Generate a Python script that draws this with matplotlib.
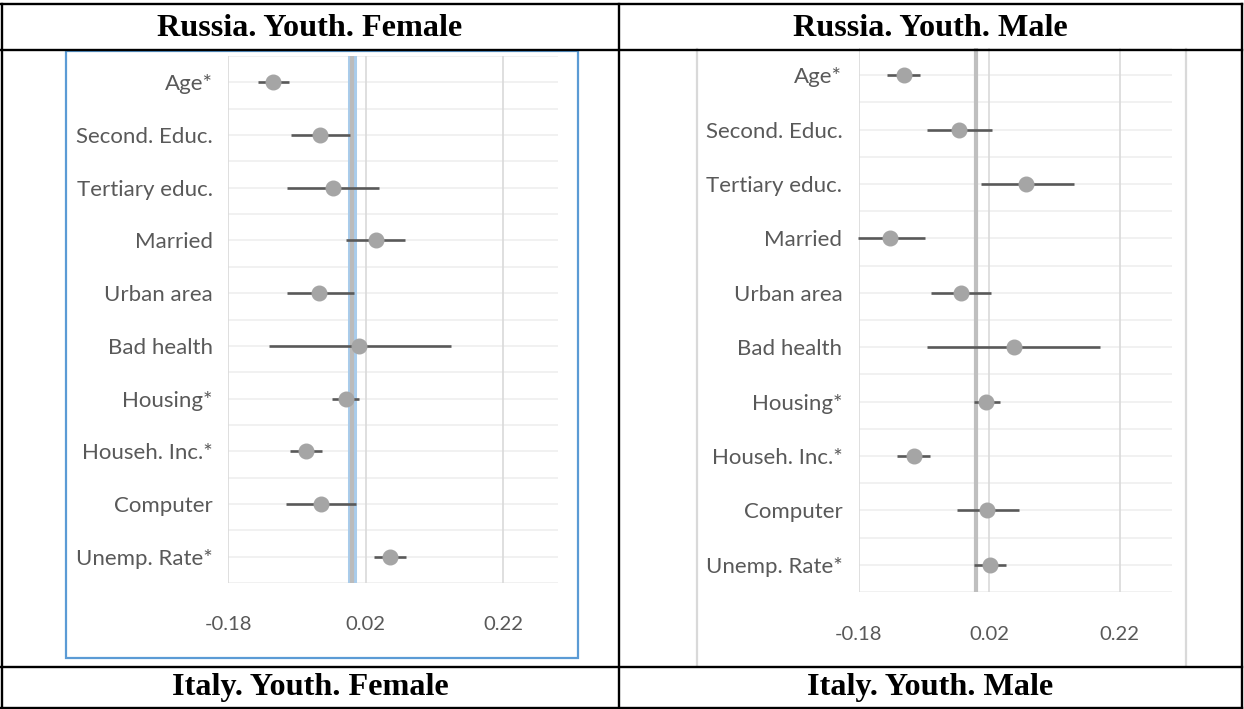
import matplotlib
matplotlib.use("Agg")
import matplotlib.pyplot as plt
import numpy as np
from matplotlib.lines import Line2D
from matplotlib.patches import Rectangle

W, H = 1244, 709
DPI = 100

categories = ["Age*", "Second. Educ.", "Tertiary educ.", "Married", "Urban area",
              "Bad health", "Housing*", "Househ. Inc.*", "Computer", "Unemp. Rate*"]
xticks = [-0.18, 0.02, 0.22]
xtick_labels = ["-0.18", "0.02", "0.22"]

fem_est = [-0.115, -0.046, -0.027, 0.035, -0.048, 0.011, -0.009, -0.067, -0.045, 0.055]
fem_lo = [-0.137, -0.089, -0.094, -0.008, -0.094, -0.120, -0.029, -0.090, -0.096, 0.032]
fem_hi = [-0.091, -0.003, 0.039, 0.078, 0.003, 0.145, 0.011, -0.043, 0.006, 0.079]

male_est = [-0.111, -0.026, 0.076, -0.132, -0.024, 0.057, 0.015, -0.096, 0.017, 0.021]
male_lo = [-0.137, -0.076, 0.007, -0.182, -0.070, -0.076, -0.003, -0.121, -0.030, -0.003]
male_hi = [-0.087, 0.024, 0.149, -0.079, 0.022, 0.189, 0.036, -0.071, 0.065, 0.046]

headers_top = ["Russia. Youth. Female", "Russia. Youth. Male"]
headers_bottom = ["Italy. Youth. Female", "Italy. Youth. Male"]

fig = plt.figure(figsize=(W / DPI, H / DPI), dpi=DPI)
fig.patch.set_facecolor("white")


def px_axes(x0, y0, x1, y1):
    return fig.add_axes([x0 / W, 1 - y1 / H, (x1 - x0) / W, (y1 - y0) / H])


def fx(x):
    return x / W


def fy(y):
    return 1 - y / H


LABEL_FONT = "Lato"
LABEL_COLOR = "#595959"


def draw_panel(box, est, lo, hi, zero_glow, label_pad, tick_pad):
    ax = px_axes(*box)
    n = len(categories)
    ypos = np.arange(n) + 0.5
    est = np.array(est)
    lo = np.array(lo)
    hi = np.array(hi)
    ax.set_xlim(-0.18, 0.30)
    ax.set_ylim(n, 0)
    # gridlines
    for g in np.arange(0, n + 0.01, 0.5):
        ax.axhline(g, color="#F0F0F0", lw=1.3, zorder=0)
    for t in xticks:
        ax.axvline(t, color="#D9D9D9", lw=1.2, zorder=0.5)
    # zero reference line
    if zero_glow:
        ax.axvline(0.0, color="#A9CCEB", lw=6.5, zorder=1)
        ax.axvline(0.0, color="#BBBBBB", lw=3.0, zorder=1.1)
    else:
        ax.axvline(0.0, color="#BFBFBF", lw=3.0, zorder=1)
    ax.errorbar(est, ypos, xerr=[est - lo, hi - est], fmt="o", color="#A5A5A5",
                ms=10.5, mec="#A5A5A5", ecolor="#595959", elinewidth=1.9,
                capsize=0, zorder=3, clip_on=False)
    for s in ax.spines.values():
        s.set_visible(False)
    ax.set_yticks(ypos)
    ax.set_yticklabels(categories, fontfamily=LABEL_FONT, fontsize=16,
                       color=LABEL_COLOR)
    ax.set_xticks(xticks)
    ax.set_xticklabels(xtick_labels, fontfamily=LABEL_FONT, fontsize=14.6,
                       color=LABEL_COLOR)
    ax.tick_params(axis="y", length=0, pad=label_pad)
    ax.tick_params(axis="x", length=0, pad=tick_pad)
    ax.set_facecolor("none")
    return ax


# Left chart frame (blue) and right chart frame (light gray sides)
fig.add_artist(Rectangle((fx(66), fy(658)), fx(578) - fx(66), fy(51) - fy(658),
                         transform=fig.transFigure, fill=False,
                         edgecolor="#5B9BD5", lw=1.6))
for xv in (697, 1186):
    fig.add_artist(Line2D([fx(xv), fx(xv)], [fy(49), fy(666)],
                          transform=fig.transFigure, color="#D9D9D9", lw=1.6))

draw_panel((228, 56, 558, 583), fem_est, fem_lo, fem_hi, True, 11, 24)
draw_panel((859, 48, 1172, 592), male_est, male_lo, male_hi, False, 12, 24.5)

# Table lines
tl = dict(transform=fig.transFigure, color="black", lw=1.7)
fig.add_artist(Line2D([fx(1), fx(1242)], [fy(4), fy(4)], **tl))
fig.add_artist(Line2D([fx(1), fx(1242)], [fy(50), fy(50)], **tl))
fig.add_artist(Line2D([fx(1), fx(1242)], [fy(667), fy(667)], **tl))
fig.add_artist(Line2D([fx(1), fx(1242)], [fy(707.5), fy(707.5)], **tl))
fig.add_artist(Line2D([fx(1.5), fx(1.5)], [fy(4), fy(708)], **tl))
fig.add_artist(Line2D([fx(1241.5), fx(1241.5)], [fy(4), fy(708)], **tl))
fig.add_artist(Line2D([fx(619), fx(619)], [fy(4), fy(708)], **tl))

hdr = dict(fontfamily="Liberation Serif", fontweight="bold", fontsize=23.2,
           ha="center", va="center", color="black")
fig.text(fx(310), fy(28), headers_top[0], **hdr)
fig.text(fx(930), fy(28), headers_top[1], **hdr)
fig.text(fx(310), fy(688), headers_bottom[0], **hdr)
fig.text(fx(930), fy(688), headers_bottom[1], **hdr)

fig.savefig("out.png", dpi=DPI, facecolor="white")
